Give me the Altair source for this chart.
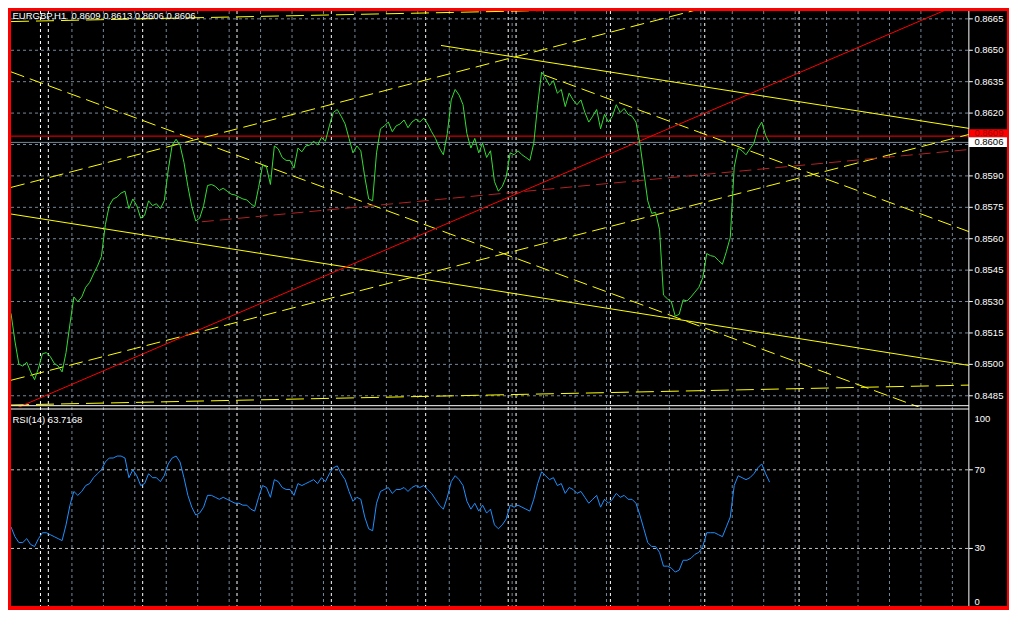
import altair as alt
import pandas as pd

# ---------------- data ----------------
close = [
    0.85244, 0.85111, 0.85001, 0.84992, 0.85010, 0.84964, 0.84927, 0.84982, 0.85051, 0.85056,
    0.85037, 0.85005, 0.84992, 0.84964, 0.85056, 0.85193, 0.85322, 0.85299, 0.85322, 0.85368,
    0.85391, 0.85432, 0.85469, 0.85515, 0.85667, 0.85758, 0.85790, 0.85799, 0.85818, 0.85827,
    0.85744, 0.85790, 0.85758, 0.85698, 0.85712, 0.85781, 0.85758, 0.85767, 0.85744, 0.85781,
    0.85928, 0.86047, 0.86075, 0.86047, 0.85965, 0.85850, 0.85753, 0.85685, 0.85698, 0.85758,
    0.85854, 0.85859, 0.85850, 0.85831, 0.85841, 0.85827, 0.85813, 0.85809, 0.85799, 0.85790,
    0.85785, 0.85767, 0.85753, 0.85845, 0.85951, 0.85942, 0.85859, 0.86043, 0.86029, 0.85988,
    0.85974, 0.85974, 0.85937, 0.86033, 0.86015, 0.86043, 0.86047, 0.86066, 0.86047, 0.86084,
    0.86066, 0.86139, 0.86203, 0.86217, 0.86185, 0.86148, 0.86079, 0.86010, 0.86043, 0.86020,
    0.85896, 0.85790, 0.85781, 0.86010, 0.86125, 0.86139, 0.86157, 0.86111, 0.86139, 0.86148,
    0.86167, 0.86130, 0.86157, 0.86171, 0.86157, 0.86176, 0.86148, 0.86111, 0.86079, 0.86033,
    0.86001, 0.86102, 0.86263, 0.86313, 0.86286, 0.86240, 0.86102, 0.86033, 0.86079, 0.86010,
    0.86056, 0.85988, 0.86020, 0.85873, 0.85827, 0.85850, 0.85896, 0.86010, 0.86001, 0.86020,
    0.86001, 0.85988, 0.85974, 0.86056, 0.86240, 0.86396, 0.86368, 0.86332, 0.86355, 0.86295,
    0.86313, 0.86231, 0.86295, 0.86263, 0.86240, 0.86263, 0.86203, 0.86157, 0.86185, 0.86217,
    0.86125, 0.86194, 0.86157, 0.86185, 0.86240, 0.86203, 0.86222, 0.86194, 0.86185, 0.86157,
    0.86056, 0.85919, 0.85781, 0.85721, 0.85726, 0.85643, 0.85331, 0.85313, 0.85299, 0.85230,
    0.85239, 0.85308, 0.85303, 0.85322, 0.85345, 0.85368, 0.85414, 0.85529, 0.85519, 0.85515,
    0.85496, 0.85478, 0.85538, 0.85607, 0.85942, 0.86033, 0.86020, 0.86001, 0.86029, 0.86056,
    0.86125, 0.86157, 0.86093, 0.86056,
]

rsi = [
    41, 36, 33, 33, 35, 32, 31, 35, 38, 38,
    37, 36, 35, 34, 42, 52, 59, 57, 59, 62,
    63, 66, 68, 70, 74, 76, 76, 77, 77, 76,
    66, 70, 67, 62, 63, 68, 66, 66, 64, 67,
    73, 76, 77, 74, 66, 57, 51, 47, 48, 51,
    57, 57, 56, 55, 56, 55, 54, 53, 53, 52,
    52, 50, 49, 56, 62, 61, 56, 65, 64, 61,
    60, 60, 57, 63, 62, 63, 64, 65, 63, 66,
    64, 68, 71, 72, 68, 65, 59, 54, 56, 55,
    46, 40, 39, 53, 59, 60, 61, 58, 60, 60,
    61, 59, 61, 62, 61, 62, 60, 58, 55, 52,
    50, 56, 64, 67, 65, 62, 54, 50, 53, 49,
    52, 48, 50, 42, 40, 42, 45, 52, 51, 52,
    51, 50, 49, 55, 63, 69, 67, 65, 66, 62,
    63, 58, 61, 60, 58, 59, 56, 53, 55, 57,
    51, 55, 53, 55, 58, 56, 57, 55, 55, 53,
    47, 40, 33, 31, 31, 28, 21, 21, 20, 18,
    19, 24, 24, 25, 27, 28, 31, 38, 38, 38,
    37, 36, 41, 46, 62, 67, 66, 65, 66, 68,
    71, 73, 68, 63.7168,
]
bars = list(range(len(close)))

price_ticks = [0.8665, 0.8650, 0.8635, 0.8620, 0.8605, 0.8590, 0.8575,
               0.8560, 0.8545, 0.8530, 0.8515, 0.8500, 0.8485]
price_labels = ["0.8665", "0.8650", "0.8635", "0.8620", "", "0.8590", "0.8575",
                "0.8560", "0.8545", "0.8530", "0.8515", "0.8500", "0.8485"]
grid_bars = [7.5, 15.5, 23.5, 31.5, 39.5, 47.5, 55.5, 63.5, 71.5, 79.5,
             87.5, 95.5, 103.5, 111.5, 119.5, 127.5, 135.5, 143.5, 151.5, 159.5,
             167.5, 175.5, 183.5, 191.5, 199.5, 207.5, 215.5, 223.5, 231.5, 239.5]
separator_bars = [7.5, 9.5, 33.5, 57.5, 81.5, 105.5, 126.5, 128.5, 152.5, 176.5, 200.5]

ask_price = 0.8609
bid_price = 0.8606
header_text = "EURGBP,H1\u00a0 0.8609 0.8613 0.8606 0.8606"
rsi_text = "RSI(14) 63.7168"
rsi_levels = [70, 30]

# trend lines: name, bar0, price0, bar1, price1
yellow_dash_lines = [
    ("a", 0, 0.85845, 180, 0.86720),
    ("c", 0, 0.86397, 243.7, 0.84708),
    ("g", 0, 0.84924, 243.7, 0.86098),
    ("i", 135.6, 0.86382, 243.7, 0.85634),
]
yellow_longdash_lines = [
    ("h", 0, 0.84806, 243.7, 0.84901),
    ("h2", 0, 0.86637, 243.7, 0.86732),
]
yellow_solid_lines = [
    ("b", 109.4, 0.86523, 243.7, 0.86127),
    ("d", 0, 0.85718, 243.7, 0.84995),
]
red_solid_lines = [("e", 0, 0.84780, 243.7, 0.86740)]
red_dash_lines = [("f", 48.55, 0.85681, 243.7, 0.86026)]

# ---------------- layout / style ----------------
W = 996
H_MAIN = 396
H_RSI = 199
X_MAX = 253.4        # right edge of the window, in bars
AXIS_X = 243.7       # price scale border, in bars
LABEL_X = 245.1
P_LO, P_HI = 0.847964, 0.866875
R_LO, R_HI = 0.73, 101.95
FONT = "Liberation Sans"
FS = 9.5

GREEN = "#33DD33"
YELLOW = "#FFFF00"
RED = "#FF0000"
DARKRED = "#B22222"
GRID = "#778899"
SEP = "#FFFFFF"
BLUE = "#1E90FF"

xs = alt.Scale(domain=[0, X_MAX], nice=False, zero=False)
ys = alt.Scale(domain=[P_LO, P_HI], nice=False, zero=False)
rs = alt.Scale(domain=[R_LO, R_HI], nice=False, zero=False)


def xq(field):
    return alt.X(field, type="quantitative", scale=xs, axis=None)


def xd(v):
    return alt.XDatum(v, type="quantitative", scale=xs, axis=None)


def lines_df(rows):
    recs = []
    for name, b0, p0, b1, p1 in rows:
        recs.append({"line": name, "bar": b0, "v": p0})
        recs.append({"line": name, "bar": b1, "v": p1})
    return pd.DataFrame(recs)


one = pd.DataFrame({"k": [0]})
df_price = pd.DataFrame({"bar": bars, "close": close})
df_rsi = pd.DataFrame({"bar": bars, "rsi": rsi})
df_grid = pd.DataFrame({"bar": grid_bars})
df_sep = pd.DataFrame({"bar": separator_bars})
df_ticks = pd.DataFrame({"p": price_ticks, "label": price_labels})
df_levels = pd.DataFrame({"r": rsi_levels, "label": [str(v) for v in rsi_levels]})


def vgrid_layers():
    g = alt.Chart(df_grid).mark_rule(color=GRID, strokeDash=[3, 3], strokeWidth=1).encode(x=xq("bar"))
    s = alt.Chart(df_sep).mark_rule(color=SEP, strokeDash=[3, 3], strokeWidth=1).encode(x=xq("bar"))
    return [g, s]


def trend(rows, color, dash=None):
    kw = dict(color=color, strokeWidth=1, clip=True)
    if dash:
        kw["strokeDash"] = dash
    return alt.Chart(lines_df(rows)).mark_line(**kw).encode(
        x=xq("bar"), y=alt.Y("v:Q", scale=ys, axis=None), detail="line:N", order="bar:Q")


def hrule(value, color):
    return alt.Chart(pd.DataFrame({"p": [value]})).mark_rule(color=color, strokeWidth=1).encode(
        y=alt.Y("p:Q", scale=ys, axis=None), x=xd(0), x2=alt.X2Datum(AXIS_X))


def price_box(lo, hi, mid, label, fill, text_color):
    d = pd.DataFrame({"lo": [lo], "hi": [hi], "mid": [mid], "label": [label]})
    r = alt.Chart(d).mark_rect(color=fill).encode(
        x=xd(AXIS_X), x2=alt.X2Datum(X_MAX),
        y=alt.Y("lo:Q", scale=ys, axis=None), y2="hi:Q")
    t = alt.Chart(d).mark_text(align="left", baseline="middle", font=FONT, fontSize=FS,
                               color=text_color).encode(
        x=xd(LABEL_X), y=alt.Y("mid:Q", scale=ys, axis=None), text="label:N")
    return [r, t]


# ---------------- main (price) window ----------------
hgrid = alt.Chart(df_ticks).mark_rule(color=GRID, strokeDash=[3, 3], strokeWidth=1).encode(
    y=alt.Y("p:Q", scale=ys, axis=None), x=xd(0), x2=alt.X2Datum(AXIS_X))
ticks = alt.Chart(df_ticks).mark_rule(color="white", strokeWidth=1).encode(
    y=alt.Y("p:Q", scale=ys, axis=None), x=xd(AXIS_X), x2=alt.X2Datum(AXIS_X + 1.0))
labels = alt.Chart(df_ticks).mark_text(align="left", baseline="middle", color="white",
                                       font=FONT, fontSize=FS).encode(
    y=alt.Y("p:Q", scale=ys, axis=None), x=xd(LABEL_X), text="label:N")

price_line = alt.Chart(df_price).mark_line(color=GREEN, strokeWidth=1, clip=True).encode(
    x=xq("bar"), y=alt.Y("close:Q", scale=ys, axis=None))

axis_line = alt.Chart(one).mark_rule(color="white", strokeWidth=1).encode(x=xd(AXIS_X))
bottom_border = alt.Chart(one).mark_rule(color="white", strokeWidth=1).encode(
    x=xd(0), x2=alt.X2Datum(AXIS_X), y=alt.value(H_MAIN - 1.3))
header = alt.Chart(one).mark_text(text=header_text, align="left", baseline="middle",
                                  color="white", font=FONT, fontSize=FS).encode(
    x=alt.value(1.5), y=alt.value(5))

ask_box = price_box(bid_price + 0.00025, bid_price + 0.00063, bid_price + 0.00045,
                    "%.4f" % ask_price, RED, "#A00000")
bid_box = price_box(bid_price - 0.00022, bid_price + 0.00025, bid_price + 0.00002,
                    "%.4f" % bid_price, "#FFFFFF", "#000000")

main = alt.layer(
    *vgrid_layers(), hgrid, hrule(bid_price, GRID), hrule(ask_price, RED),
    trend(yellow_dash_lines, YELLOW, [14, 6]),
    trend(yellow_longdash_lines, YELLOW, [18, 7]),
    trend(yellow_solid_lines, YELLOW),
    trend(red_solid_lines, RED),
    trend(red_dash_lines, DARKRED, [12, 6]),
    price_line, axis_line, bottom_border, ticks, labels, *ask_box, *bid_box, header,
).properties(width=W, height=H_MAIN)

# ---------------- RSI window ----------------
levels = alt.Chart(df_levels).mark_rule(color="#C0C0C0", strokeDash=[3, 3], strokeWidth=1).encode(
    y=alt.Y("r:Q", scale=rs, axis=None), x=xd(0), x2=alt.X2Datum(AXIS_X))
lev_ticks = alt.Chart(df_levels).mark_rule(color="white", strokeWidth=1).encode(
    y=alt.Y("r:Q", scale=rs, axis=None), x=xd(AXIS_X), x2=alt.X2Datum(AXIS_X + 1.0))
lev_labels = alt.Chart(df_levels).mark_text(align="left", baseline="middle", color="white",
                                            font=FONT, fontSize=FS).encode(
    y=alt.Y("r:Q", scale=rs, axis=None), x=xd(LABEL_X), text="label:N")
top_label = alt.Chart(pd.DataFrame({"r": [100], "label": ["100"]})).mark_text(
    align="left", baseline="top", dy=3, color="white", font=FONT, fontSize=FS).encode(
    y=alt.Y("r:Q", scale=rs, axis=None), x=xd(LABEL_X), text="label:N")
bot_label = alt.Chart(pd.DataFrame({"r": [0], "label": ["0"]})).mark_text(
    align="left", baseline="bottom", dy=0, color="white", font=FONT, fontSize=FS).encode(
    y=alt.Y("r:Q", scale=rs, axis=None), x=xd(LABEL_X), text="label:N")

rsi_line = alt.Chart(df_rsi).mark_line(color=BLUE, strokeWidth=1, clip=True).encode(
    x=xq("bar"), y=alt.Y("rsi:Q", scale=rs, axis=None))
rsi_axis = alt.Chart(one).mark_rule(color="white", strokeWidth=1).encode(x=xd(AXIS_X))
top_border = alt.Chart(one).mark_rule(color="white", strokeWidth=1).encode(
    x=xd(0), x2=alt.X2Datum(AXIS_X), y=alt.value(2.0))
rsi_header = alt.Chart(one).mark_text(text=rsi_text, align="left", baseline="middle",
                                      color="white", font=FONT, fontSize=FS).encode(
    x=alt.value(1.5), y=alt.value(13))

rsi_panel = alt.layer(
    *vgrid_layers(), levels, rsi_line, rsi_axis, top_border, lev_ticks, lev_labels,
    top_label, bot_label, rsi_header,
).properties(width=W, height=H_RSI)

chart = alt.vconcat(main, rsi_panel, spacing=0, bounds="flush").properties(
    background="#FF0000",
    padding={"left": 2, "top": 2, "right": 2, "bottom": 3},
).configure_view(stroke=None, fill="#000000").configure_concat(spacing=0)

chart.save("out.html", embed_options={"renderer": "svg", "actions": False})
